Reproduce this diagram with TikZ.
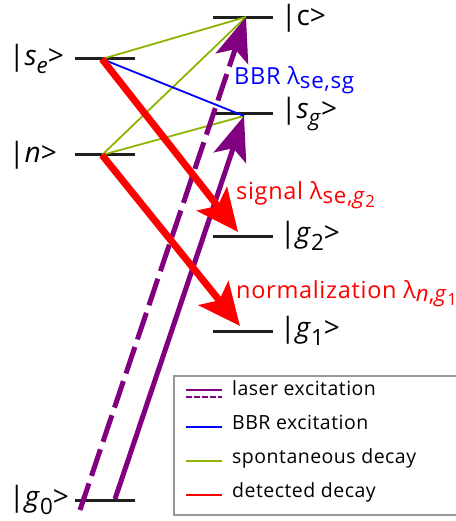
\documentclass[tikz,border=0pt]{standalone}
\usepackage{fontspec}
\setmainfont{Open Sans}
\usepackage{xcolor}
\definecolor{laserpurple}{RGB}{128, 0, 128}
\definecolor{spongreen}{RGB}{140, 180, 0}
\usepackage{tikz}
\usetikzlibrary{
    arrows.meta, 
    positioning
}
\newcommand{\lsub}[1]{\raisebox{-0.3ex}{\scalebox{0.95}{#1}}}
\newcommand{\lsubb}[1]{\raisebox{-0.35ex}{\scalebox{0.75}{#1}}}
\newcommand{\ksub}[1]{\raisebox{-0.5ex}{\scalebox{0.8}{#1}}}

\begin{document}
\begin{tikzpicture}[
    x=1pt, y=-1pt,
    level/.style={draw=black!88, line width=3pt},
    statelbl/.style={font=\fontsize{28}{30}\selectfont, inner sep=0pt},
    spon/.style={draw=spongreen, line width=1.8pt},
    bbr/.style={draw=blue, line width=1.8pt},
    laser/.style={draw=laserpurple, line width=5pt, -{Stealth[length=44pt, width=34pt, inset=10pt]}},
    detect/.style={draw=red, line width=7pt, -{Stealth[length=42pt, width=38pt, inset=9pt]}},
    ann/.style={font=\fontsize{23.5}{27}\selectfont\addfontfeatures{LetterSpace=3}, inner sep=0pt, anchor=base west},
    legtext/.style={font=\fontsize{19.5}{24}\selectfont\addfontfeatures{LetterSpace=2.5}, inner sep=0pt, anchor=mid west},
    legframe/.style={draw=black!40, line width=2pt, inner sep=0pt, anchor=north west, minimum width=300pt, minimum height=139pt}
]
\useasboundingbox (0,0) rectangle (455,521);

% ==================== LEVELS ====================
\coordinate (c_l) at (213,18);  \coordinate (c_r) at (273,18);  \coordinate (c) at (246,17);
\coordinate (se_l) at (75,59);  \coordinate (se_r) at (135,59); \coordinate (se) at (102,59);
\coordinate (sg_l) at (213,114); \coordinate (sg_r) at (273,114); \coordinate (sg) at (244,116);
\coordinate (n_l) at (75,155);  \coordinate (n_r) at (135,155); \coordinate (n) at (102,155);
\coordinate (g2_l) at (213,236); \coordinate (g2_r) at (273,236); \coordinate (g2) at (238,232);
\coordinate (g1_l) at (213,331); \coordinate (g1_r) at (273,331); \coordinate (g1) at (240,326);
\coordinate (g0_l) at (75,500); \coordinate (g0_r) at (135,500);
\coordinate (g0_a) at (80,510);  \coordinate (g0_b) at (115,499);

\draw[level] (c_l) -- (c_r);
\draw[level] (se_l) -- (se_r);
\draw[level] (sg_l) -- (sg_r);
\draw[level] (n_l) -- (n_r);
\draw[level] (g2_l) -- (g2_r);
\draw[level] (g1_l) -- (g1_r);
\draw[level] (g0_l) -- (g0_r);

\node[statelbl, right=8pt of c_r] (c_txt) {|c>};
\node[statelbl, anchor=west] (se_txt) at (9,59) {|\textit{s}\ksub{\textit{e}}>};
\node[statelbl, right=8pt of sg_r] (sg_txt) {|\textit{s}\ksub{\textit{g}}>};
\node[statelbl, anchor=west] (n_txt) at (9,155) {|\textit{n}>};
\node[statelbl, right=7pt of g2_r] (g2_txt) {|\textit{g}\ksub{2}>};
\node[statelbl, right=7pt of g1_r] (g1_txt) {|\textit{g}\ksub{1}>};
\node[statelbl, anchor=west] (g0_txt) at (9,500) {|\textit{g}\ksub{0}>};

% ==================== DECAYS ====================
\draw[spon] (se) -- (c);
\draw[spon] (n) -- (c);
\draw[spon] (n) -- (sg);
\draw[bbr] (se) -- (sg);

% ==================== EXCITATION ====================
\draw[laser, dash pattern=on 28pt off 8pt] (g0_a) -- (c);
\draw[laser] (g0_b) -- (sg);

\draw[detect] (se) -- (g2);
\draw[detect] (n) -- (g1);

\node[ann, text=blue] (bbr_txt) at (234,85) {BBR λ\lsub{se,sg}};
\node[ann, text=red] (sig_txt) at (236,200) {signal λ\lsub{se,\textit{g}\lsubb{2}}};
\node[ann, text=red] (norm_txt) at (236,298) {normalization λ\lsub{\textit{n},\textit{g}\lsubb{1}}};

% ==================== LEGEND ====================
\node[legframe] (legend) at (173,375) {};
\draw[draw=laserpurple, line width=2pt] (186,390) -- (222,390);
\draw[draw=laserpurple, line width=2pt, dash pattern=on 6pt off 2pt] (186,397) -- (222,397);
\node[legtext] (leg_laser) at (232,393) {laser excitation};
\draw[bbr, line width=1.5pt] (186,427) -- (222,427);
\node[legtext] (leg_bbr) at (232,427) {BBR excitation};
\draw[spon, line width=1.5pt] (186,461) -- (222,461);
\node[legtext] (leg_spon) at (232,461) {spontaneous decay};
\draw[draw=red, line width=1.5pt] (186,495) -- (222,495);
\node[legtext] (leg_det) at (232,495) {detected decay};

\end{tikzpicture}
\end{document}
